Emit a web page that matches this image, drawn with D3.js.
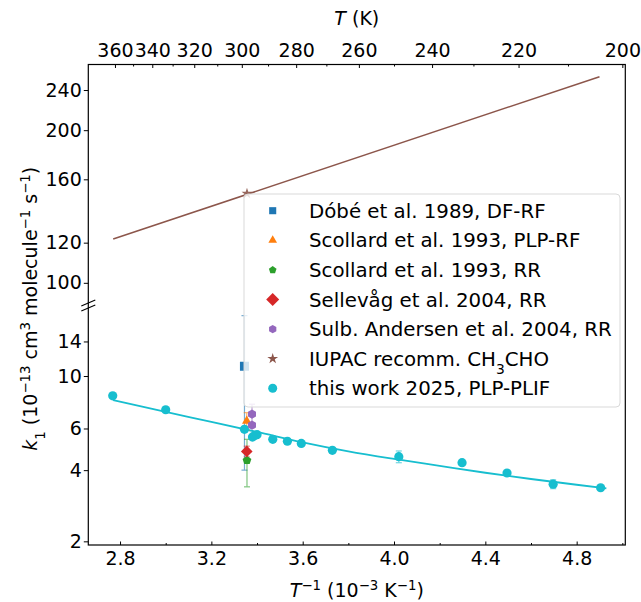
<!DOCTYPE html>
<html><head><meta charset="utf-8">
<script src="https://cdn.jsdelivr.net/npm/d3@7"></script>
<style>
body{margin:0;background:#fff}
text{font-family:"DejaVu Sans",sans-serif;fill:#000}
</style>
</head><body>
<svg id="c" width="641" height="602"></svg>
<script>
// ---------- data ----------
const xTicks = [2.8, 3.2, 3.6, 4.0, 4.4, 4.8];
const xMinorTicks = [3.0, 3.4, 3.8, 4.2, 4.6, 5.0];
const tTicks = [360, 340, 320, 300, 280, 260, 240, 220, 200];
const tMinorTicks = [350, 330, 310, 290, 270, 250, 230, 210];
const yUpperTicks = [100, 120, 160, 200, 240];
const yLowerTicks = [2, 4, 6, 10, 14];

// this work 2025, PLP-PLIF
const thisWorkX   = [2.768, 3.000, 3.345, 3.380, 3.390, 3.400, 3.469, 3.533, 3.594, 3.730, 4.021, 4.298, 4.495, 4.697, 4.905];
const thisWorkK   = [8.25, 7.20, 5.95, 5.52, 5.60, 5.65, 5.40, 5.30, 5.19, 4.85, 4.56, 4.30, 3.89, 3.49, 3.37];
const thisWorkErr = [0.12, 0.10, 0.15, 0.12, 0.12, 0.12, 0.10, 0.10, 0.10, 0.10, 0.26, 0.08, 0.08, 0.15, 0.06];
// fit curve
const fitX = [2.77, 3.0, 3.2, 3.4, 3.6, 3.8, 4.0, 4.2, 4.4, 4.6, 4.8, 4.93];
const fitK = [7.91, 7.05, 6.40, 5.80, 5.24, 4.80, 4.46, 4.17, 3.90, 3.67, 3.47, 3.35];
// IUPAC recommendation line and 298 K star
const iupacX = [2.77, 4.90];
const iupacK = [122, 255];
const iupacStarX = [3.356];
const iupacStarK = [150];
// literature room-temperature values
const dobeX = [3.345], dobeK = [11.0], dobeErr = [7.0];
const scollPlpX = [3.355], scollPlpK = [6.45], scollPlpErr = [0.55];
const scollRrX = [3.356], scollRrK = [4.40], scollRrErr = [1.0];
const sellX = [3.355], sellK = [4.80], sellErr = [0.25];
const sulbX = [3.378, 3.378], sulbK = [6.90, 6.20], sulbErr = [0.70, 0.15];

const legendLabels = [
  ["Dóbé et al. 1989, DF-RF"],
  ["Scollard et al. 1993, PLP-RF"],
  ["Scollard et al. 1993, RR"],
  ["Sellevåg et al. 2004, RR"],
  ["Sulb. Andersen et al. 2004, RR"],
  ["IUPAC recomm. CH", "3", "CHO"],
  ["this work 2025, PLP-PLIF"]
];

// ---------- layout ----------
const L = 88.3, R = 625.3, T = 64.5, B = 545, BR = 307;
const svg = d3.select("#c");
const x = d3.scaleLinear().domain([2.661, 5.013]).range([L, R]);
const yU = d3.scaleLog().domain([89.6, 269.5]).range([BR, T]);
const yL = d3.scaleLog().domain([1.93, 19.58]).range([B, BR]);

const C = {blue:"#1f77b4", orange:"#ff7f0e", green:"#2ca02c", red:"#d62728",
           purple:"#9467bd", brown:"#8c564b", cyan:"#17becf"};

function polySym(n, rot) {
  return { draw(ctx, size) {
    const r = Math.sqrt(size / (n / 2 * Math.sin(2 * Math.PI / n)));
    for (let i = 0; i < n; i++) {
      const a = rot + 2 * Math.PI * i / n;
      const px = r * Math.sin(a), py = -r * Math.cos(a);
      if (i) ctx.lineTo(px, py); else ctx.moveTo(px, py);
    }
    ctx.closePath();
  }};
}
const polyArea = (n, r) => n / 2 * r * r * Math.sin(2 * Math.PI / n);
const M = {
  square:  (r) => d3.symbol().type(polySym(4, Math.PI/4)).size(polyArea(4, r))(),
  tri:     (r) => d3.symbol().type(polySym(3, 0)).size(polyArea(3, r))(),
  pent:    (r) => d3.symbol().type(polySym(5, 0)).size(polyArea(5, r))(),
  diamond: (r) => d3.symbol().type(polySym(4, 0)).size(polyArea(4, r))(),
  hex:     (r) => d3.symbol().type(polySym(6, 0)).size(polyArea(6, r))(),
  star:    (r) => d3.symbol().type(d3.symbolStar).size(r * r * 1.2)(),
  circle:  (r) => d3.symbol().type(d3.symbolCircle).size(Math.PI * r * r)()
};

svg.append("clipPath").attr("id","clipL").append("rect")
  .attr("x", L).attr("y", BR).attr("width", R - L).attr("height", B - BR);
svg.append("clipPath").attr("id","clipU").append("rect")
  .attr("x", L).attr("y", T).attr("width", R - L).attr("height", BR - T);

const up = svg.append("g").attr("clip-path", "url(#clipU)");
const lo = svg.append("g").attr("clip-path", "url(#clipL)");

// IUPAC line + star (upper panel)
up.append("path")
  .datum(d3.zip(iupacX, iupacK))
  .attr("d", d3.line().x(d => x(d[0])).y(d => yU(d[1])))
  .attr("fill", "none").attr("stroke", C.brown).attr("stroke-width", 1.5);
up.selectAll(".star").data(d3.zip(iupacStarX, iupacStarK)).join("path")
  .attr("transform", d => `translate(${x(d[0])},${yU(d[1])})`)
  .attr("d", M.star(5.5)).attr("fill", C.brown).attr("opacity", 0.9);

// fit line
lo.append("path")
  .datum(d3.zip(fitX, fitK))
  .attr("d", d3.line().curve(d3.curveMonotoneX).x(d => x(d[0])).y(d => yL(d[1])))
  .attr("fill", "none").attr("stroke", C.cyan).attr("stroke-width", 1.8);

function errorBars(xs, ks, es, color, cap) {
  const g = lo.append("g").attr("stroke", color).attr("stroke-width", 1.2).attr("opacity", 0.6);
  xs.forEach((xv, i) => {
    const X = x(xv), y1 = yL(ks[i] + es[i]), y2 = yL(ks[i] - es[i]);
    g.append("line").attr("x1", X).attr("x2", X).attr("y1", y1).attr("y2", y2);
    g.append("line").attr("x1", X - cap).attr("x2", X + cap).attr("y1", y1).attr("y2", y1);
    g.append("line").attr("x1", X - cap).attr("x2", X + cap).attr("y1", y2).attr("y2", y2);
  });
}
function markers(xs, ks, path, color, op) {
  lo.append("g").selectAll("path").data(d3.zip(xs, ks)).join("path")
    .attr("transform", d => `translate(${x(d[0])},${yL(d[1])})`)
    .attr("d", path).attr("fill", color).attr("opacity", op || 1);
}

errorBars(dobeX, dobeK, dobeErr, C.blue, 3);
errorBars(scollRrX, scollRrK, scollRrErr, C.green, 3);
errorBars(scollPlpX, scollPlpK, scollPlpErr, C.orange, 3);
errorBars(sellX, sellK, sellErr, C.red, 3);
errorBars(sulbX, sulbK, sulbErr, C.purple, 3);
errorBars(thisWorkX, thisWorkK, thisWorkErr, C.cyan, 3);

markers(dobeX, dobeK, M.square(6.4), C.blue, 1);
markers(scollPlpX, scollPlpK, M.tri(5.5), C.orange);
markers(thisWorkX, thisWorkK, M.circle(4.6), C.cyan);
markers(scollRrX, scollRrK, M.pent(4.6), C.green);
markers(sellX, sellK, M.diamond(5.8), C.red);
markers(sulbX, sulbK, M.hex(4.6), C.purple);

// ---------- axes ----------
const fs = 19;
const ax = svg.append("g").attr("font-size", fs);

ax.append("g").attr("transform", `translate(0,${B})`)
  .call(d3.axisBottom(x).tickValues(xTicks).tickFormat(d3.format(".1f")).tickSize(-3.5).tickPadding(7));
ax.append("g").attr("transform", `translate(0,${B})`)
  .call(d3.axisBottom(x).tickValues(xMinorTicks).tickFormat("").tickSize(-2));
ax.append("g").attr("transform", `translate(0,${T})`)
  .call(d3.axisTop(x).tickValues(tTicks.map(t => 1000 / t)).tickFormat((d, i) => tTicks[i]).tickSize(-3.5).tickPadding(8));
ax.append("g").attr("transform", `translate(0,${T})`)
  .call(d3.axisTop(x).tickValues(tMinorTicks.map(t => 1000 / t)).tickFormat("").tickSize(-2));
ax.append("g").attr("transform", `translate(${L},0)`)
  .call(d3.axisLeft(yU).tickValues(yUpperTicks).tickFormat(d3.format("d")).tickSize(4.5).tickPadding(2));
ax.append("g").attr("transform", `translate(${L},0)`)
  .call(d3.axisLeft(yL).tickValues(yLowerTicks).tickFormat(d3.format("d")).tickSize(4.5).tickPadding(2));

ax.selectAll(".domain").remove();
ax.selectAll("text").attr("font-family", "DejaVu Sans").attr("fill", "#000").attr("font-size", fs);
ax.selectAll(".tick line").attr("stroke", "#000").attr("stroke-width", 1);

// spines
svg.append("rect").attr("x", L).attr("y", T).attr("width", R - L).attr("height", B - T)
  .attr("fill", "none").attr("stroke", "#000").attr("stroke-width", 1.2);

// break marks
[303, 308].forEach(cy => {
  svg.append("line").attr("x1", L - 7).attr("y1", cy + 3).attr("x2", L + 7).attr("y2", cy - 3)
    .attr("stroke", "#000").attr("stroke-width", 1.1);
});

// axis titles
const topTitle = svg.append("text").attr("x", (L + R) / 2).attr("y", 25)
  .attr("text-anchor", "middle").attr("font-size", fs);
topTitle.append("tspan").attr("font-style", "italic").text("T");
topTitle.append("tspan").text(" (K)");

const xTitle = svg.append("text").attr("x", (L + R) / 2).attr("y", 597)
  .attr("text-anchor", "middle").attr("font-size", fs);
xTitle.append("tspan").attr("font-style", "italic").text("T");
xTitle.append("tspan").attr("baseline-shift", "super").attr("font-size", fs * 0.7).text("−1");
xTitle.append("tspan").text(" (10");
xTitle.append("tspan").attr("baseline-shift", "super").attr("font-size", fs * 0.7).text("−3");
xTitle.append("tspan").text(" K");
xTitle.append("tspan").attr("baseline-shift", "super").attr("font-size", fs * 0.7).text("−1");
xTitle.append("tspan").text(")");

const yTitle = svg.append("text").attr("transform", `translate(37,${(T + B) / 2 + 4}) rotate(-90)`)
  .attr("text-anchor", "middle").attr("font-size", fs);
yTitle.append("tspan").attr("font-style", "italic").text("k");
yTitle.append("tspan").attr("baseline-shift", "sub").attr("font-size", fs * 0.7).text("1");
yTitle.append("tspan").text(" (10");
yTitle.append("tspan").attr("baseline-shift", "super").attr("font-size", fs * 0.7).text("−13");
yTitle.append("tspan").text(" cm");
yTitle.append("tspan").attr("baseline-shift", "super").attr("font-size", fs * 0.7).text("3");
yTitle.append("tspan").text(" molecule");
yTitle.append("tspan").attr("baseline-shift", "super").attr("font-size", fs * 0.7).text("−1");
yTitle.append("tspan").text(" s");
yTitle.append("tspan").attr("baseline-shift", "super").attr("font-size", fs * 0.7).text("−1");
yTitle.append("tspan").text(")");

// ---------- legend ----------
const lfs = 19.8;
const lg = svg.append("g");
lg.append("rect").attr("x", 244).attr("y", 194).attr("width", 376).attr("height", 213)
  .attr("rx", 4).attr("fill", "#fff").attr("fill-opacity", 0.8)
  .attr("stroke", "#d9d9d9").attr("stroke-width", 1);
const legMarks = [
  [M.square(5.0), C.blue], [M.tri(5.0), C.orange], [M.pent(4.0), C.green],
  [M.diamond(6.5), C.red], [M.hex(4.2), C.purple], [M.star(5.5), C.brown], [M.circle(4.5), C.cyan]
];
legendLabels.forEach((lab, i) => {
  const yy = 210.7 + i * 29.6;
  lg.append("path").attr("transform", `translate(272.7,${yy})`)
    .attr("d", legMarks[i][0]).attr("fill", legMarks[i][1]);
  const t = lg.append("text").attr("x", 309).attr("y", yy + 7).attr("font-size", lfs);
  t.append("tspan").text(lab[0]);
  if (lab.length > 1) {
    t.append("tspan").attr("baseline-shift", "sub").attr("font-size", lfs * 0.7).text(lab[1]);
    t.append("tspan").text(lab[2]);
  }
});
</script>
</body></html>
